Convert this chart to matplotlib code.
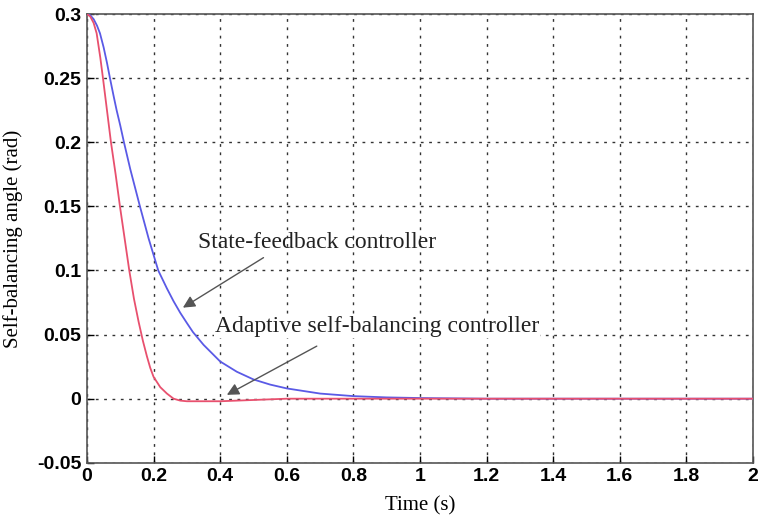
import numpy as np
import matplotlib.pyplot as plt

# response of the self-balancing angle (rad) vs time (s)
t_state = [0, 0.01, 0.02, 0.03, 0.039, 0.05, 0.06, 0.069, 0.08, 0.089, 0.1, 0.111,
           0.13, 0.159, 0.185, 0.214, 0.24, 0.26, 0.28, 0.3, 0.318, 0.35, 0.4, 0.45,
           0.5, 0.55, 0.6, 0.7, 0.8, 0.9, 1.0, 1.2, 1.4, 1.6, 1.8, 2.0]
angle_state = [0.3, 0.299, 0.296, 0.291, 0.285, 0.274, 0.262, 0.25, 0.236, 0.225, 0.213, 0.2,
               0.179, 0.15, 0.125, 0.1, 0.086, 0.076, 0.067, 0.059, 0.052, 0.042, 0.029, 0.021,
               0.015, 0.011, 0.008, 0.004, 0.002, 0.001, 0.0005, 0.0, 0.0, 0.0, 0.0, 0.0]

t_adaptive = [0, 0.01, 0.02, 0.029, 0.04, 0.048, 0.06, 0.072, 0.086, 0.099, 0.113, 0.127,
              0.141, 0.155, 0.168, 0.18, 0.19, 0.2, 0.22, 0.24, 0.26, 0.28, 0.3, 0.4,
              0.5, 0.6, 0.8, 1.0, 2.0]
angle_adaptive = [0.3, 0.298, 0.293, 0.285, 0.266, 0.25, 0.225, 0.2, 0.175, 0.15, 0.125, 0.1,
                  0.078, 0.06, 0.045, 0.033, 0.024, 0.017, 0.009, 0.004, 0.0, -0.0015, -0.002, -0.002,
                  -0.001, 0.0, 0.0, 0.0, 0.0]

xticks = [0, 0.2, 0.4, 0.6, 0.8, 1, 1.2, 1.4, 1.6, 1.8, 2]
xticklabels = ['0', '0.2', '0.4', '0.6', '0.8', '1', '1.2', '1.4', '1.6', '1.8', '2']
yticks = [-0.05, 0, 0.05, 0.1, 0.15, 0.2, 0.25, 0.3]
yticklabels = ['-0.05', '0', '0.05', '0.1', '0.15', '0.2', '0.25', '0.3']

fig = plt.figure(figsize=(7.63, 5.2), dpi=100)
ax = fig.add_axes([0.114, 0.110, 0.873, 0.863])

ax.plot(t_state, angle_state, color='#5a5ae6', lw=1.3, zorder=3)
ax.plot(t_adaptive, angle_adaptive, color='#e8506e', lw=1.3, zorder=3)

ax.set_xlim(0, 2)
ax.set_ylim(-0.05, 0.3)
ax.set_xticks(xticks)
ax.set_xticklabels(xticklabels)
ax.set_yticks(yticks)
ax.set_yticklabels(yticklabels)
ax.tick_params(direction='in', length=5, width=1, labelsize=14, pad=4)
for lbl in ax.get_xticklabels() + ax.get_yticklabels():
    lbl.set_fontfamily('Liberation Sans')
    lbl.set_fontweight('bold')
for sp in ax.spines.values():
    sp.set_color('#555555')
    sp.set_linewidth(1.2)

ax.grid(True, color='#333333', linestyle=(0, (2, 4)), linewidth=1.0)
ax.set_axisbelow(True)

ax.set_xlabel('Time (s)', family='Liberation Serif', fontsize=15, labelpad=8)
ax.set_ylabel('Self-balancing angle (rad)', family='Liberation Serif', fontsize=15, labelpad=10)

arrow = dict(arrowstyle='-|>', color='#555555', lw=1.0, mutation_scale=18,
             shrinkA=0, shrinkB=0)
ax.annotate('', xy=(0.288, 0.071), xytext=(0.53, 0.110), arrowprops=arrow)
ax.annotate('', xy=(0.42, 0.003), xytext=(0.69, 0.041), arrowprops=arrow)

ax.text(0.333, 0.122, 'State-feedback controller', fontsize=17,
        family='Liberation Serif', color='#222222', va='center', ha='left')
ax.text(0.384, 0.056, 'Adaptive self-balancing controller', fontsize=17,
        family='Liberation Serif', color='#222222', va='center', ha='left',
        bbox=dict(facecolor='white', edgecolor='none', pad=0.5))

fig.savefig('out.png', dpi=100)
